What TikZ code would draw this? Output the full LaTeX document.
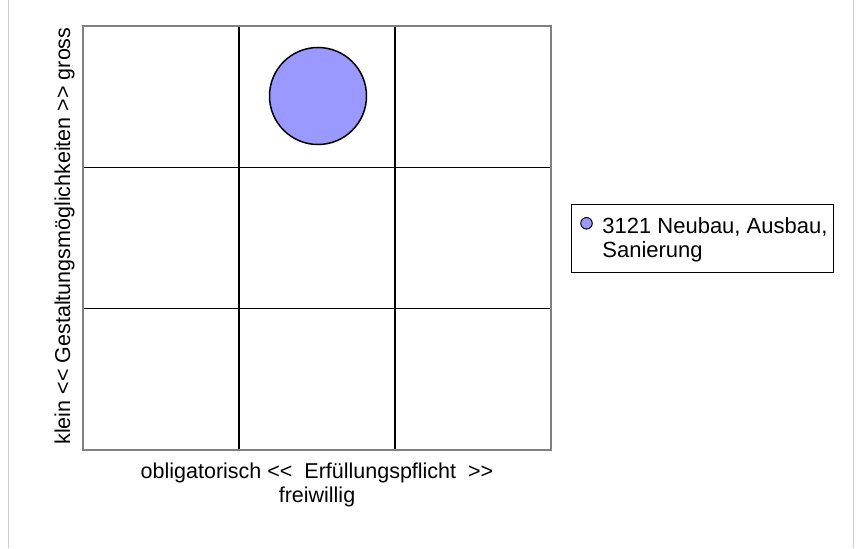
\documentclass[tikz,border=0pt]{standalone}
\usepackage{fontspec}
\setmainfont{Liberation Sans}
\begin{document}
\begin{tikzpicture}[x=1pt, y=-1pt, thick,
    every node/.style={font=\fontsize{21.5}{24}\selectfont}]

    % Цвета
    \definecolor{bubblecolor}{RGB}{153,153,255}  % светло-синий
    \definecolor{framecolor}{RGB}{128,128,128}   % серый
    \definecolor{sidecolor}{RGB}{205,205,205}    % светло-серый

    \useasboundingbox (0,0) rectangle (858,548);

    % Боковые линии
    \draw[sidecolor, line width=1.5pt] (8.5,0) -- (8.5,548);
    \draw[sidecolor, line width=1.5pt] (853.5,0) -- (853.5,548);

    % Сетка 3x3
    \foreach \i in {1,2}
        \draw[line width=1.6pt] (83+\i*156,26) -- (83+\i*156,450);
    \foreach \j in {1,2}
        \draw[line width=1.6pt] (83,26+\j*141.33) -- (551,26+\j*141.33);

    % Рамка
    \draw[framecolor, line width=2pt] (83,26) rectangle (551,450);

    % Круг
    \node[draw, circle, fill=bubblecolor, minimum size=97pt, inner sep=0pt, line width=1.5pt] (B) at (318,96) {};

    % Подписи осей
    \node[rotate=90, anchor=base, inner sep=0pt] (ylabel) at (70,236) {klein <{}< Gestaltungsmöglichkeiten >{}> gross};
    \node[align=center, inner sep=0pt] (xlabel) at (317,484.5) {obligatorisch <{}<\ \ Erfüllungspflicht\ \ >{}>\\freiwillig};

    % Легенда
    \node[draw, fill=white, minimum width=262pt, minimum height=68pt, inner sep=0pt, line width=1pt] (legend) at (702,238) {};
    \node[draw, circle, fill=bubblecolor, minimum size=11.5pt, inner sep=0pt, line width=1pt] (legbullet) at (586.5,223.3) {};
    \node[align=left, anchor=north west, inner sep=0pt, font=\fontsize{22}{23.4}\selectfont] (legtext) at (602,217.5) {3121 Neubau, Ausbau,\\Sanierung};
\end{tikzpicture}
\end{document}
